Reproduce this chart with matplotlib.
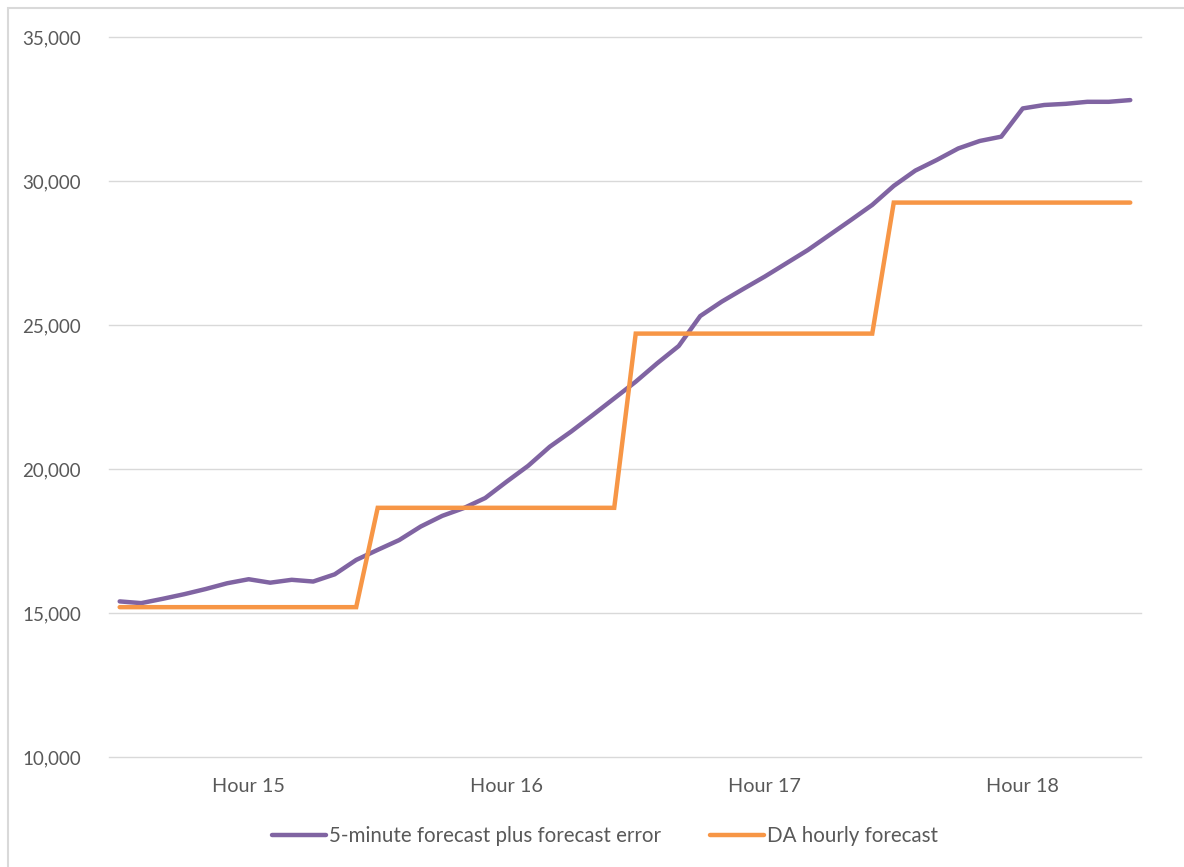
import numpy as np
import matplotlib
matplotlib.use("Agg")
import matplotlib.pyplot as plt
from matplotlib.patches import Rectangle
from matplotlib.ticker import FuncFormatter

plt.rcParams['font.family'] = ['Lato', 'DejaVu Sans']

# 5-minute intervals, hours 15 to 18 (12 points per hour)
five_min = [15400, 15340, 15490, 15650, 15830, 16030, 16170, 16050, 16150, 16090, 16340, 16840,
            17190, 17530, 18000, 18370, 18640, 18990, 19560, 20110, 20770, 21300, 21870, 22450,
            23030, 23670, 24270, 25310, 25810, 26250, 26680, 27140, 27600, 28120, 28640, 29170,
            29830, 30360, 30730, 31130, 31390, 31540, 32520, 32640, 32680, 32750, 32750, 32810]
da_hourly = [15200, 18650, 24700, 29250]
hour_labels = ['Hour 15', 'Hour 16', 'Hour 17', 'Hour 18']

x = np.arange(len(five_min))
da = np.repeat(da_hourly, 12)

fig = plt.figure(figsize=(11.84, 8.67), dpi=100)
ax = fig.add_axes([0.092, 0.127, 0.8717, 0.8303])

purple = '#8064A2'
orange = '#F79646'
ax.plot(x, five_min, color=purple, lw=3.2, label='5-minute forecast plus forecast error',
        solid_joinstyle='round', solid_capstyle='round')
ax.plot(x, da, color=orange, lw=3.2, label='DA hourly forecast',
        solid_joinstyle='miter', solid_capstyle='round')

ax.set_xlim(-0.5, 47.5)
ax.set_ylim(10000, 35000)
ax.set_yticks(np.arange(10000, 35001, 5000))
ax.yaxis.set_major_formatter(FuncFormatter(lambda v, p: f'{int(v):,}'))
ax.set_xticks([6, 18, 30, 42])
ax.set_xticklabels(hour_labels)
ax.grid(axis='y', color='#d9d9d9', lw=1)
for gl in ax.get_ygridlines():
    gl.set_clip_on(False)
ax.set_axisbelow(True)
for s in ax.spines.values():
    s.set_visible(False)
ax.tick_params(axis='both', length=0, colors='#595959')
ax.tick_params(axis='y', pad=20, labelsize=13.5)
ax.tick_params(axis='x', pad=15, labelsize=14.3)

leg = fig.legend(loc='center', bbox_to_anchor=(0.511, 0.036), ncol=2, frameon=False,
                 fontsize=14.8, handlelength=2.6, handletextpad=0.15, columnspacing=2.4)
for t in leg.get_texts():
    t.set_color('#595959')

fig.patches.append(Rectangle((8 / 1184, -0.01), 1.0, 1 - 8 / 867 + 0.01,
                             transform=fig.transFigure, fill=False, edgecolor='#d9d9d9', lw=1.5))

fig.savefig('out.png', dpi=100)
